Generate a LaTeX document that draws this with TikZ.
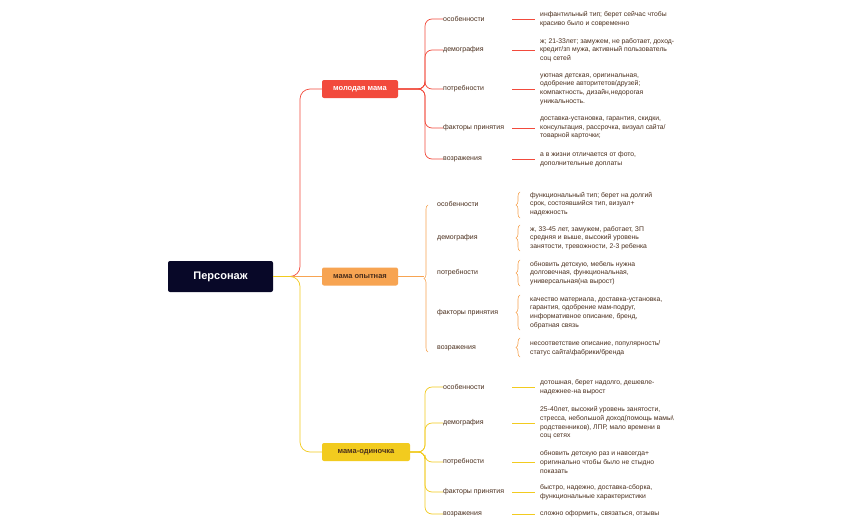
\documentclass[tikz,border=0pt]{standalone}
\usepackage{fontspec}
\setmainfont{Liberation Sans}
\usetikzlibrary{decorations.pathreplacing}
\definecolor{cR}{HTML}{F24A3C}
\definecolor{cO}{HTML}{F7A452}
\definecolor{cY}{HTML}{F2CB1F}
\definecolor{tx}{HTML}{4A2E1C}
\begin{document}
\begin{tikzpicture}[x=1pt,y=-1pt,
 br/.style={rounded corners=2pt,minimum height=18pt,inner xsep=5pt,font=\fontsize{7.5}{9}\selectfont\bfseries},
 it/.style={anchor=west,inner sep=0pt,text=tx,font=\fontsize{7}{8.6}\selectfont},
 dt/.style={anchor=west,inner sep=0pt,text=tx,align=left,font=\fontsize{6.8}{8.7}\selectfont},
 ln/.style={line width=0.7pt},
 bc/.style={line width=0.6pt,cO,decorate,decoration={brace,amplitude=4pt}}]
\useasboundingbox (0,0) rectangle (856,530);
\fill[white] (0,0) rectangle (856,530);
\node[rounded corners=2pt,fill={rgb,255:red,8;green,8;blue,40},text=white,minimum width=105pt,minimum height=31pt,font=\fontsize{11}{13}\selectfont\bfseries] (root) at (220.5,276.5) {Персонаж};
\node[br,fill=cR,text=white,minimum width=76pt] (b1) at (360,89) {молодая мама};
\node[br,fill=cO,text=tx,minimum width=76pt] (b2) at (360,276.5) {мама опытная};
\node[br,fill=cY,text=tx,minimum width=88pt] (b3) at (366,452) {мама-одиночка};
\draw[ln,cR,rounded corners=10pt] (root.east) -- (300,276.5) |- (b1.west);
\draw[ln,cO] (root.east) -- (b2.west);
\draw[ln,cY,rounded corners=10pt] (root.east) -- (300,276.5) |- (b3.west);
% branch 1
\foreach \n/\y/\t in {a/19/особенности,b/50/демография,c/89/потребности,d/128/факторы принятия,e/159/возражения}{
 \node[it] (r\n) at (443,\y) {\t};
 \draw[ln,cR,rounded corners=7pt] (b1.east) -| (425,\y) -- (r\n.west);
 \coordinate (rl\n) at (512,\y); \coordinate (rr\n) at (535,\y);
 \draw[ln,cR] (rl\n) -- (rr\n);
}
\node[dt] (ra1) at (540,19) {инфантильный тип; берет сейчас чтобы\\красиво было и современно};
\node[dt] (rb1) at (540,50) {ж; 21-33лет; замужем, не работает, доход-\\кредит/зп мужа, активный пользователь\\соц сетей};
\node[dt] (rc1) at (540,89) {уютная детская, оригинальная,\\одобрение авторитетов/друзей;\\компактность, дизайн,недорогая\\уникальность.};
\node[dt] (rd1) at (540,128) {доставка-установка, гарантия, скидки,\\консультация, рассрочка, визуал сайта/\\товарной карточки;};
\node[dt] (re1) at (540,159) {а в жизни отличается от фото,\\дополнительные доплаты};
% branch 2
\draw[bc] (428,352) -- coordinate[pos=0.5] (btip) (428,205);
\draw[ln,cO] (b2.east) -- (424,276.5);
\foreach \n/\y/\t in {a/204/особенности,b/238/демография,c/273/потребности,d/313/факторы принятия,e/348/возражения}{
 \node[it] (o\n) at (437,\y) {\t};
}
\draw[bc] (520,218) -- (520,192);
\draw[bc] (520,251) -- (520,225);
\draw[bc] (520,286) -- (520,260);
\draw[bc] (520,330) -- (520,295);
\draw[bc] (520,357) -- (520,338);
\node[dt] (oa1) at (530,204) {функциональный тип; берет на долгий\\срок, состоявшийся тип, визуал+\\надежность};
\node[dt] (ob1) at (530,238) {ж, 33-45 лет, замужем, работает, ЗП\\средняя и выше, высокий уровень\\занятости, тревожности, 2-3 ребенка};
\node[dt] (oc1) at (530,273) {обновить детскую, мебель нужна\\долговечная, функциональная,\\универсальная(на вырост)};
\node[dt] (od1) at (530,313) {качество материала, доставка-установка,\\гарантия, одобрение мам-подруг,\\информативное описание, бренд,\\обратная связь};
\node[dt] (oe1) at (530,348) {несоответствие описание, популярность/\\статус сайта\textbackslash фабрики/бренда};
% branch 3
\foreach \n/\y/\t in {a/387/особенности,b/423/демография,c/462/потребности,d/492/факторы принятия,e/514/возражения}{
 \node[it] (y\n) at (443,\y) {\t};
 \draw[ln,cY,rounded corners=7pt] (b3.east) -| (425,\y) -- (y\n.west);
 \coordinate (yl\n) at (512,\y); \coordinate (yr\n) at (535,\y);
 \draw[ln,cY] (yl\n) -- (yr\n);
}
\node[dt] (ya1) at (540,387) {дотошная, берет надолго, дешевле-\\надежнее-на вырост};
\node[dt] (yb1) at (540,423) {25-40лет, высокий уровень занятости,\\стресса, небольшой доход(помощь мамы\textbackslash\\родственников), ЛПР, мало времени в\\соц сетях};
\node[dt] (yc1) at (540,462) {обновить детскую раз и навсегда+\\оригинально чтобы было не стыдно\\показать};
\node[dt] (yd1) at (540,492) {быстро, надежно, доставка-сборка,\\функциональные характеристики};
\node[dt] (ye1) at (540,514) {сложно оформить, связаться, отзывы};
\end{tikzpicture}
\end{document}
